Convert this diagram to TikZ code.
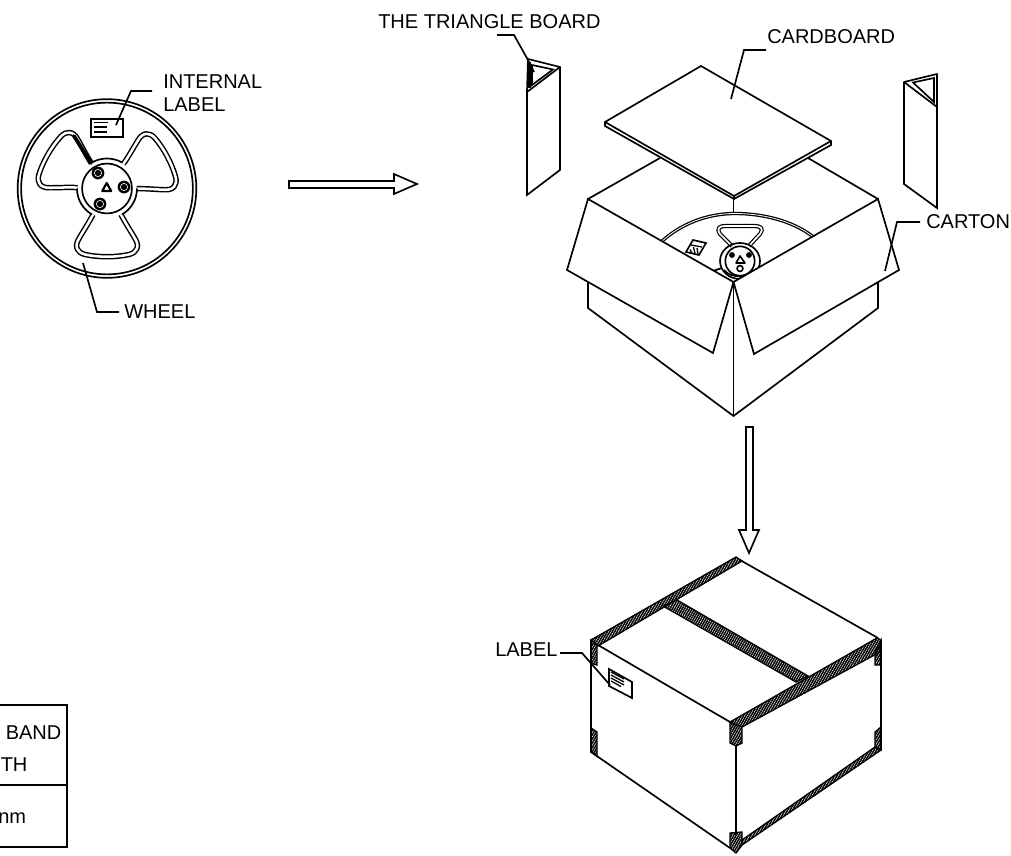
\documentclass[tikz,border=0pt]{standalone}
\usepackage{fontspec}
\setmainfont{Liberation Sans}
\usetikzlibrary{patterns.meta}
\tikzset{
  ln/.style={line width=1.25pt,line join=miter,draw=black},
  thin ln/.style={line width=.95pt,draw=black},
  dbl/.style={line width=1.1pt,draw=black,double=white,double distance=1.9pt,line join=round},
  dblthin/.style={line width=.95pt,draw=black,double=white,double distance=.6pt},
  face/.style={ln,fill=white},
  hatch/.style={line width=1pt,draw=black,pattern={Lines[angle=60,distance=1.6pt,line width=1.15pt]}},
  txt/.style={font=\fontsize{15pt}{17pt}\selectfont,inner sep=0pt,anchor=west,text=black},
}
\newcommand{\reelwin}{(-14,26) .. controls (-18,34) and (-24,43) .. (-28,50) .. controls (-33,58) and (-30,64) .. (-22,66) .. controls (-8,69) and (8,69) .. (22,66) .. controls (30,64) and (33,58) .. (28,50) .. controls (24,43) and (18,34) .. (14,26)}
\begin{document}
\begin{tikzpicture}[x=.75pt,y=-.75pt]
\useasboundingbox (0,0) rectangle (1011,856);
\clip (0,0) rectangle (1011,856);

% ---------- reel
\coordinate (reelc) at (107,188.5);
\draw[ln] (reelc) circle[radius=67pt];
\draw[ln] (reelc) circle[radius=64.4pt];
\begin{scope}[shift={(reelc)}]
  \draw[dbl] \reelwin;
\end{scope}
\begin{scope}[shift={(reelc)},rotate=118]
  \draw[dbl] \reelwin;
\end{scope}
\begin{scope}[shift={(reelc)},rotate=-120]
  \draw[dbl] \reelwin;
\end{scope}
\draw[line width=2.8pt,line cap=round] (74,136) -- (91,163);
\draw[ln] (reelc) circle[radius=18.7pt];
\foreach \a in {-60,60,180}{
  \draw[ln] (reelc) ++(\a:22.5pt) arc[start angle=\a,delta angle=60,radius=22.5pt];
}
\foreach \p in {(98,173),(124,187),(100,204)}{
  \fill \p circle[radius=4.8pt];
  \draw[white,line width=.45pt] \p circle[radius=2.7pt];
}
\draw[line width=1.6pt,line join=round] (106.7,183) -- (102.2,191) -- (111.2,191) -- cycle;
% label on reel
\draw[ln] (91,119) rectangle (123,137);
\draw[ln] (94,122.5) -- (108,122.5) (94,127) -- (107,127) (94,132) -- (107,132);
\node[txt] (tinternal) at (163,82) {INTERNAL};
\node[txt] (tlabel) at (163,105) {LABEL};
\coordinate (li1) at (152,91);
\coordinate (li2) at (131,91);
\coordinate (li3) at (116,125);
\draw[ln] (li1) -- (li2) -- (li3);
\node[txt] (twheel) at (124,312) {WHEEL};
\coordinate (lw1) at (119,312);
\coordinate (lw2) at (97,312);
\coordinate (lw3) at (83,263);
\draw[ln] (lw1) -- (lw2) -- (lw3);

% ---------- arrows
\draw[ln,line join=miter] (289,181) -- (394,181) -- (394,174) -- (417,184) -- (394,194) -- (394,188) -- (289,188) -- cycle;
\draw[ln] (746,427) -- (753,427) -- (753,530) -- (759,530) -- (749,553) -- (739,530) -- (746,530) -- cycle;

% ---------- left triangle board
\draw[ln,line join=round] (528,59) -- (560,67) -- (527,92) -- cycle;
\draw[ln] (532,65) -- (553,69.5) -- (532,85) -- cycle;
\draw[ln] (527,92) -- (527,195) -- (560,170) -- (560,67);
\draw[line width=1.6pt] (529.5,62) -- (529.5,88);
\node[txt] (ttri) at (378,22) {THE TRIANGLE BOARD};
\coordinate (lt1) at (497,35);
\coordinate (lt2) at (514,35);
\coordinate (lt3) at (528,60);
\coordinate (lt4) at (534,72);
\draw[ln] (lt1) -- (lt2) -- (lt3) -- (lt4);

% ---------- right triangle board
\draw[ln,line join=round] (904,82) -- (937,74) -- (937,107) -- cycle;
\draw[ln] (913,82.5) -- (934,78) -- (934,102) -- cycle;
\draw[ln] (904,82) -- (904,184) -- (937,208) -- (937,107);

% ---------- open carton
\draw[ln] (588,199) -- (660,158) (808,158) -- (878,199);
\draw[ln] (733.5,198) -- (733.5,214);
\draw[dblthin] (660,243) .. controls (680,224) and (707,213.5) .. (735,213.5) .. controls (765,213.5) and (797,222) .. (817,240);
% mini reel
\draw[dbl,double distance=1.3pt,line width=.9pt] (732,246) -- (720,234) .. controls (716,228) and (720,226) .. (725,226) -- (755,226) .. controls (761,226) and (764,229) .. (760,234) -- (749,246);
\draw[ln] (740,261) ellipse[x radius=15pt,y radius=13.5pt];
\draw[ln] (740,261) ellipse[x radius=11pt,y radius=11pt];
\fill (732,255) circle[radius=2.2pt];
\fill (749,255) circle[radius=2.2pt];
\draw[line width=1.2pt] (740,268.5) circle[radius=2.2pt];
\draw[line width=1.2pt,line join=round] (740,256) -- (736,263) -- (745,263) -- cycle;
\draw[line width=1.4pt] (713,271) -- (722,268);
\draw[ln] (724,270) .. controls (730,278) and (750,280) .. (760,268);
\draw[ln] (693,240) -- (706,243) -- (699,255) -- (686,252) -- cycle;
\draw[thin ln] (691,245) -- (702,247) (690,249.5) -- (692,253) (693.5,247) -- (695,253.5) (697,248) -- (698,254);

% body
\draw[face] (588,282) -- (588,308) -- (733.5,416) -- (878,308) -- (878,282);
\draw[ln] (733.5,282) -- (733.5,416);
% front flaps
\draw[face] (588,199) -- (567,270) -- (713,353) -- (733.5,282) -- cycle;
\draw[face] (878,199) -- (899,270) -- (754,354) -- (733.5,282) -- cycle;
% cardboard
\draw[face] (605,122) -- (701,66) -- (831,141) -- (831,145) -- (734,199) -- (605,126) -- cycle;
\draw[ln] (605,122) -- (734,196) -- (831,141);
\draw[ln] (734,196) -- (734,199);
\node[txt] (tcard) at (767,37) {CARDBOARD};
\coordinate (lc1) at (766,50);
\coordinate (lc2) at (744,50);
\coordinate (lc3) at (731,99);
\draw[ln] (lc1) -- (lc2) -- (lc3);
\node[txt] (tcarton) at (926,222) {CARTON};
\coordinate (lk1) at (920,222);
\coordinate (lk2) at (897,222);
\coordinate (lk3) at (885,271);
\draw[ln] (lk1) -- (lk2) -- (lk3);

% ---------- sealed carton
\draw[ln] (591,640) -- (591,752) -- (730,848);
\draw[ln] (881,640) -- (881,750);
\draw[ln] (736,746) -- (736,835);
\draw[ln] (598,645) -- (730,722);
\draw[ln] (740,560) -- (878,638);
% tape
\draw[hatch] (591,640) -- (736,557) -- (742,561) -- (598,646) -- cycle;
\draw[hatch] (663,606) -- (677,600) -- (808,676) -- (796,682) -- cycle;
\draw[hatch] (730,722) -- (877,638) -- (881,640) -- (880,652) -- (742,727) -- cycle;
\draw[hatch] (730,723) -- (742,727) -- (742,743) -- (736,746) -- (730,743) -- cycle;
\draw[hatch] (730,833) -- (742,832) -- (742,845) -- (736,853) -- (730,848) -- cycle;
\draw[hatch] (742,845) -- (881,750) -- (875,747) -- (742,840) -- cycle;
\draw[hatch] (591,640) -- (597,645) -- (597,665) -- (591,663) -- cycle;
\draw[hatch] (591,728) -- (597,732) -- (597,756) -- (591,752) -- cycle;
\draw[hatch] (875,652) -- (881,640) -- (881,665) -- (875,665) -- cycle;
\draw[hatch] (875,732) -- (881,727) -- (881,750) -- (875,747) -- cycle;
% box label
\draw[ln] (609,669) -- (632,682) -- (632,698) -- (609,686) -- cycle;
\draw[thin ln] (611,672) -- (624,679) (611,675) -- (624,682) (611,678) -- (624,685) (611,681) -- (621,686.5);
\node[txt] (tboxlabel) at (495,650) {LABEL};
\coordinate (lb1) at (560,653);
\coordinate (lb2) at (582,653);
\coordinate (lb3) at (610,685);
\draw[ln] (lb1) -- (lb2) -- (lb3);

% ---------- table (cropped at the page edge)
\draw[ln] (0,705) -- (67,705) -- (67,847) -- (0,847);
\draw[ln] (0,785) -- (67,785);
\node[txt] (tband) at (5.5,733) {BAND};
\node[txt] (tth) at (0.5,765) {TH};
\node[txt] (tmm) at (-2,818) {nm};
\end{tikzpicture}
\end{document}
